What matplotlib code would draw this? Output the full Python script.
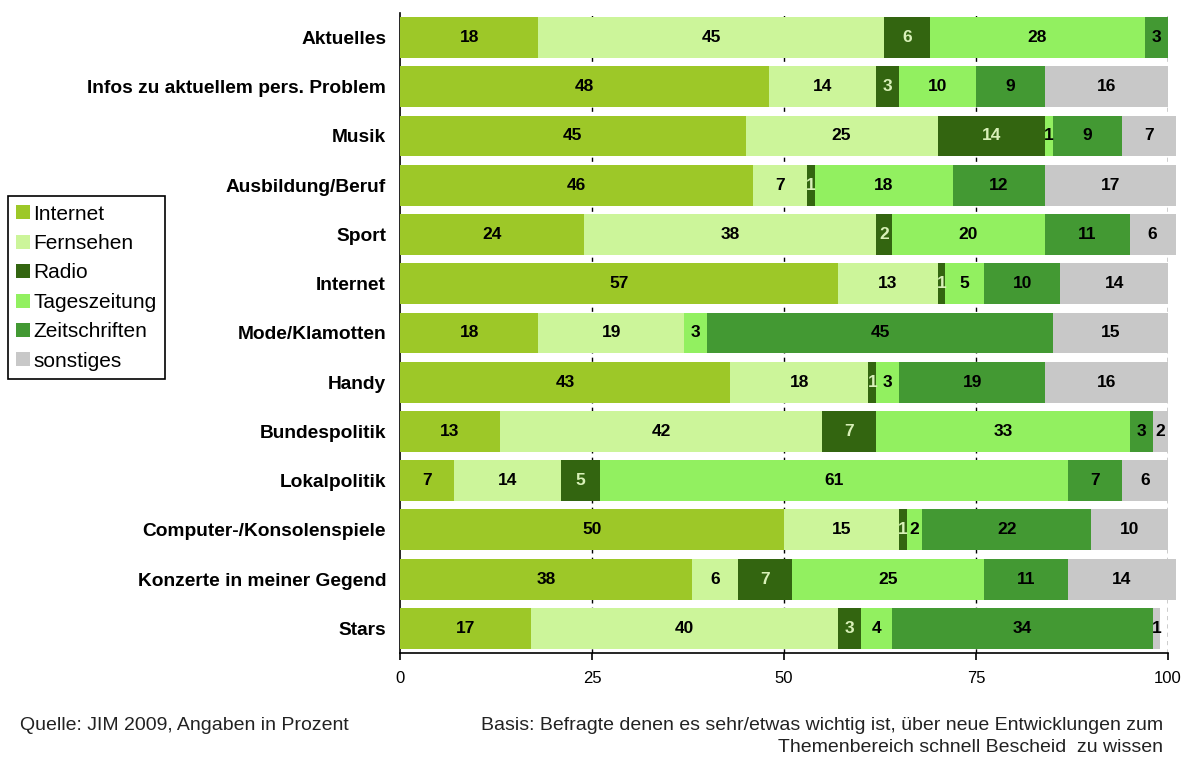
import matplotlib.pyplot as plt
import numpy as np

# Kategorien (von oben nach unten)
kategorien = ['Aktuelles', 'Infos zu aktuellem pers. Problem', 'Musik',
              'Ausbildung/Beruf', 'Sport', 'Internet', 'Mode/Klamotten',
              'Handy', 'Bundespolitik', 'Lokalpolitik',
              'Computer-/Konsolenspiele', 'Konzerte in meiner Gegend', 'Stars']

internet      = [18, 48, 45, 46, 24, 57, 18, 43, 13, 7, 50, 38, 17]
fernsehen     = [45, 14, 25, 7, 38, 13, 19, 18, 42, 14, 15, 6, 40]
radio         = [6, 3, 14, 1, 2, 1, 0, 1, 7, 5, 1, 7, 3]
tageszeitung  = [28, 10, 1, 18, 20, 5, 3, 3, 33, 61, 2, 25, 4]
zeitschriften = [3, 9, 9, 12, 11, 10, 45, 19, 3, 7, 22, 11, 34]
sonstiges     = [0, 16, 7, 17, 6, 14, 15, 16, 2, 6, 10, 14, 1]

serien = ['Internet', 'Fernsehen', 'Radio', 'Tageszeitung', 'Zeitschriften', 'sonstiges']
werte = [internet, fernsehen, radio, tageszeitung, zeitschriften, sonstiges]
farben = ['#9DC828', '#CCF59A', '#336510', '#92F060', '#439933', '#C8C8C8']
textfarben = ['black', 'black', '#D8F0B8', 'black', 'black', 'black']

schrift = ['Liberation Sans', 'DejaVu Sans']
schmal = ['Liberation Sans Narrow', 'Liberation Sans', 'DejaVu Sans']

fig = plt.figure(figsize=(11.84, 7.58), dpi=100)
ax = fig.add_axes([0.3378, 0.1385, 0.6487, 0.8445])

y = np.arange(len(kategorien))
links = np.zeros(len(kategorien))
for name, w, f, tf in zip(serien, werte, farben, textfarben):
    w = np.array(w)
    bars = ax.barh(y, w, left=links, height=0.83, color=f, label=name, zorder=3)
    for b in bars:
        b.set_clip_on(False)
    for i, v in enumerate(w):
        if v > 0:
            ax.text(links[i] + v / 2, y[i], str(v), ha='center', va='center',
                    fontsize=12.5, fontweight='bold', color=tf,
                    family=schmal, zorder=4)
    links += w

ax.set_ylim(len(kategorien) - 0.5, -0.5)
ax.set_xlim(0, 100)
ax.set_yticks(y)
ax.set_yticklabels(kategorien, fontsize=13.8, fontweight='bold', family=schrift)
ax.tick_params(axis='y', length=0, pad=10)
ax.set_xticks([0, 25, 50, 75, 100])
ax.set_xticklabels(['0', '25', '50', '75', '100'], fontsize=12, family=schrift)
ax.tick_params(axis='x', length=5, width=1.2, pad=8)

for g in [25, 50, 75, 100]:
    ax.axvline(g, color='black', linestyle=(0, (3, 3)), linewidth=1, zorder=1)

for s in ['top', 'right']:
    ax.spines[s].set_visible(False)
ax.spines['left'].set_linewidth(1.2)
ax.spines['bottom'].set_linewidth(1.2)

leg = fig.legend(loc='upper left', bbox_to_anchor=(0.0068, 0.741),
                 prop={'family': schrift, 'size': 15},
                 handlelength=0.65, handleheight=0.65, handletextpad=0.15,
                 labelspacing=0.5, borderpad=0.4, borderaxespad=0,
                 fancybox=False, framealpha=1, edgecolor='black')
leg.get_frame().set_linewidth(1.2)

fig.text(0.017, 0.043, 'Quelle: JIM 2009, Angaben in Prozent', fontsize=14,
         family=schrift, color='#222222', va='center')
fig.text(0.982, 0.043,
         'Basis: Befragte denen es sehr/etwas wichtig ist, über neue Entwicklungen zum',
         fontsize=14, family=schrift, color='#222222', ha='right', va='center')
fig.text(0.982, 0.014, 'Themenbereich schnell Bescheid  zu wissen', fontsize=14,
         family=schrift, color='#222222', ha='right', va='center')

fig.savefig('out.png', dpi=100)
